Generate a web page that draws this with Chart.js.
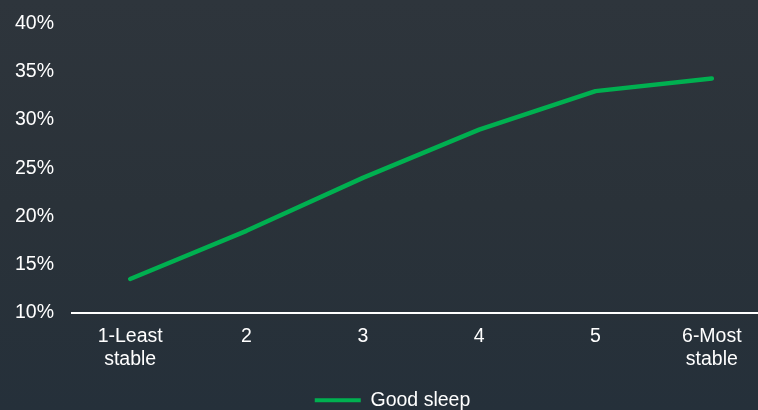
<!DOCTYPE html>
<html>
<head>
<meta charset="utf-8">
<script src="https://cdn.jsdelivr.net/npm/chart.js@4/dist/chart.umd.min.js"></script>
<style>
  html, body { margin: 0; padding: 0; overflow: hidden; width: 758px; height: 410px; }
  body { background: linear-gradient(180deg, #2e353c 0%, #2a3239 50%, #25303a 100%); }
  #wrap { position: relative; top: -6px; width: 770px; height: 426px; }
</style>
</head>
<body>
<div id="wrap"><canvas id="chart"></canvas></div>
<script>
// chart data
const categories = [['1-Least', 'stable'], '2', '3', '4', '5', ['6-Most', 'stable']];
const goodSleep = [13.5, 18.5, 24.0, 29.0, 33.0, 34.3];
const seriesName = 'Good sleep';
const yMin = 10, yMax = 40, yStep = 5;

const green = '#00b050';
const white = '#ffffff';
const font = { family: "'Liberation Sans', Arial, sans-serif", size: 19.5 };

new Chart(document.getElementById('chart'), {
  type: 'line',
  data: {
    labels: categories,
    datasets: [{
      label: seriesName,
      data: goodSleep,
      borderColor: green,
      backgroundColor: green,
      borderWidth: 4.5,
      borderCapStyle: 'round',
      borderJoinStyle: 'round',
      pointRadius: 0,
      tension: 0,
      fill: false
    }]
  },
  options: {
    responsive: true,
    maintainAspectRatio: false,
    animation: false,
    layout: { padding: { top: 0, left: 15, right: 0, bottom: 0 } },
    plugins: {
      tooltip: { enabled: false },
      legend: {
        position: 'bottom',
        labels: {
          color: white,
          font: font,
          boxWidth: 46,
          boxHeight: 4,
          padding: 7,
          generateLabels: () => [{
            text: seriesName,
            fillStyle: green,
            strokeStyle: green,
            lineWidth: 0,
            fontColor: white
          }]
        }
      }
    },
    scales: {
      x: {
        offset: true,
        grid: { display: false, drawTicks: false },
        border: { color: white, width: 2 },
        ticks: { color: white, font: font, padding: 12, maxRotation: 0 }
      },
      y: {
        min: yMin,
        max: yMax,
        grid: { display: false, drawTicks: false },
        border: { display: false },
        afterFit: scale => { scale.width = 57; },
        ticks: {
          stepSize: yStep,
          color: white,
          font: font,
          padding: 18,
          callback: v => v + '%'
        }
      }
    }
  }
});
</script>
</body>
</html>
